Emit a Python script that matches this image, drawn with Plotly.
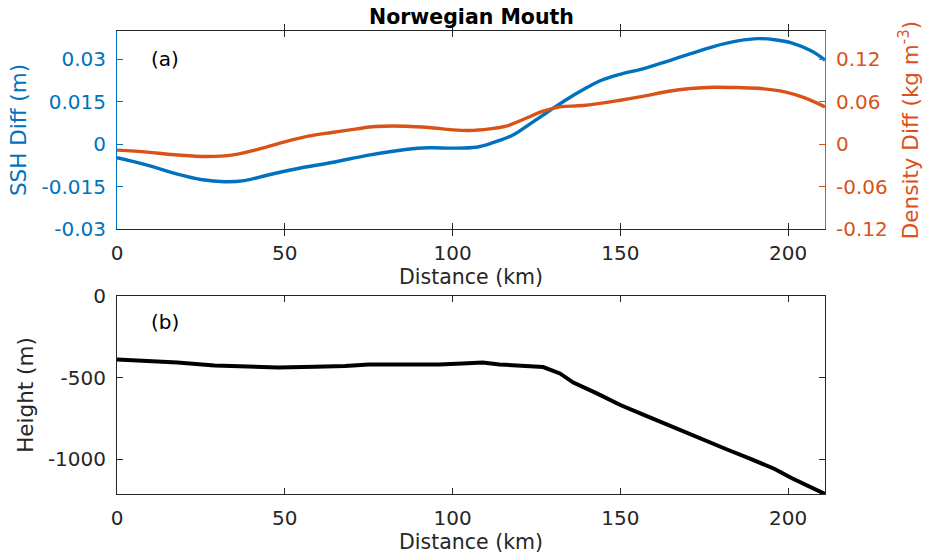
import plotly.graph_objects as go

# ---- data ----
ssh_km = [0, 9, 18, 25, 32, 38, 45, 54, 64, 75, 86, 93, 100, 107, 112, 118, 123, 128,
          134, 139, 144, 150, 157, 164, 171, 178, 185, 191, 196, 201, 207, 211]
ssh_diff = [-0.0048, -0.0074, -0.0106, -0.0125, -0.0133, -0.0129, -0.0109, -0.0086,
            -0.0065, -0.0039, -0.0019, -0.0013, -0.0014, -0.0011, 0.0005, 0.0032,
            0.0071, 0.0111, 0.0158, 0.0193, 0.0224, 0.0247, 0.0267, 0.0293, 0.0320,
            0.0346, 0.0365, 0.0373, 0.0369, 0.0358, 0.0329, 0.0297]

dens_km = [0, 9, 16, 25, 31, 36, 43, 50, 57, 64, 71, 77, 86, 93, 100, 105, 111, 116,
           121, 127, 132, 139, 150, 157, 164, 171, 178, 185, 192, 199, 205, 211]
dens_diff = [-0.0085, -0.0113, -0.0146, -0.0174, -0.0169, -0.0141, -0.0061, 0.0033,
             0.0113, 0.0165, 0.0212, 0.0249, 0.0254, 0.0235, 0.0202, 0.0193, 0.0216,
             0.0254, 0.0348, 0.0466, 0.0527, 0.0546, 0.0621, 0.0678, 0.0744, 0.0786,
             0.0805, 0.0800, 0.0786, 0.0739, 0.0654, 0.0527]

topo_km = [0, 11, 18, 29, 39, 48, 59, 68, 75, 86, 96, 103, 109, 114, 119, 127, 132,
           136, 143, 150, 157, 160, 167, 175, 182, 189, 196, 201, 207, 211]
height_m = [-388, -398, -407, -425, -433, -437, -433, -429, -419, -421, -419, -413,
            -407, -419, -427, -435, -474, -530, -596, -667, -728, -754, -815, -884,
            -941, -998, -1059, -1114, -1175, -1212]

x_ticks = [0, 50, 100, 150, 200]
ssh_ticks = [-0.03, -0.015, 0, 0.015, 0.03]
ssh_tick_text = ["-0.03", "-0.015", "0", "0.015", "0.03"]
dens_ticks = [-0.12, -0.06, 0, 0.06, 0.12]
dens_tick_text = ["-0.12", "-0.06", "0", "0.06", "0.12"]
height_ticks = [-1000, -500, 0]
height_tick_text = ["-1000", "-500", "0"]

# ---- styling ----
W, H = 933, 556
L, R, T, B = 117, 825, 31, 494           # plot-area pixel box
PW, PH = R - L, B - T
BLUE = "#0072BD"
ORANGE = "#D95319"
GRAY = "#262626"
FONT = "DejaVu Sans"
TICK_SIZE = 20
LABEL_SIZE = 20.5

def fy(p):
    """pixel row -> paper y"""
    return (B - p) / PH

def fx(p):
    return (p - L) / PW

top_dom = [fy(229), fy(31)]
bot_dom = [fy(494), fy(296)]

fig = go.Figure()
fig.add_trace(go.Scatter(x=ssh_km, y=ssh_diff, mode="lines", line=dict(color=BLUE, width=3.4, shape="spline"),
                         xaxis="x", yaxis="y", showlegend=False))
fig.add_trace(go.Scatter(x=dens_km, y=dens_diff, mode="lines", line=dict(color=ORANGE, width=3.4, shape="spline"),
                         xaxis="x", yaxis="y2", showlegend=False))
fig.add_trace(go.Scatter(x=topo_km, y=height_m, mode="lines", line=dict(color="black", width=4),
                         xaxis="x2", yaxis="y3", showlegend=False))

xcommon = dict(range=[0, 211], tickvals=x_ticks, ticks="inside", ticklen=6, tickcolor=GRAY,
               showline=True, linecolor=GRAY, linewidth=1, mirror="allticks", showgrid=False,
               zeroline=False, automargin=False, domain=[0, 1], ticklabelstandoff=6,
               tickfont=dict(family=FONT, size=TICK_SIZE, color=GRAY),
               title=dict(text="Distance (km)", font=dict(family=FONT, size=LABEL_SIZE, color=GRAY), standoff=5))

fig.update_layout(
    template="none",
    width=W, height=H,
    margin=dict(l=L, r=W - R, t=T, b=H - B, autoexpand=False),
    paper_bgcolor="white", plot_bgcolor="white",
    font=dict(family=FONT),
    xaxis=dict(anchor="y", **xcommon),
    yaxis=dict(domain=top_dom, anchor="x", range=[-0.03, 0.04], tickvals=ssh_ticks, ticktext=ssh_tick_text,
               ticks="inside", ticklen=6, tickcolor=BLUE, showline=True, linecolor=BLUE, linewidth=1,
               showgrid=False, zeroline=False, ticklabelstandoff=6, automargin=False,
               tickfont=dict(family=FONT, size=TICK_SIZE, color=BLUE),
               title=dict(text="SSH Diff (m)", font=dict(family=FONT, size=LABEL_SIZE + 1, color=BLUE), standoff=8)),
    yaxis2=dict(overlaying="y", side="right", anchor="x", range=[-0.12, 0.16], tickvals=dens_ticks,
                ticktext=dens_tick_text, ticks="inside", ticklen=6, tickcolor=ORANGE, showline=True,
                linecolor=ORANGE, linewidth=1, showgrid=False, zeroline=False, ticklabelstandoff=6,
                automargin=False,
                tickfont=dict(family=FONT, size=TICK_SIZE, color=ORANGE),
                title=dict(text="Density Diff (kg m<sup>-3</sup>)",
                           font=dict(family=FONT, size=LABEL_SIZE + 1, color=ORANGE), standoff=16)),
    xaxis2=dict(anchor="y3", **xcommon),
    yaxis3=dict(domain=bot_dom, anchor="x2", range=[-1212, 0], tickvals=height_ticks, ticktext=height_tick_text,
                ticks="inside", ticklen=6, tickcolor=GRAY, showline=True, linecolor=GRAY, linewidth=1,
                mirror="allticks", showgrid=False, zeroline=False, ticklabelstandoff=6, automargin=False,
                tickfont=dict(family=FONT, size=TICK_SIZE, color=GRAY),
                title=dict(text="Height (m)", font=dict(family=FONT, size=LABEL_SIZE + 1, color=GRAY), standoff=8)),
)

fig.add_annotation(text="<b>Norwegian Mouth</b>", xref="paper", yref="paper",
                   x=0.5, y=fy(17), xanchor="center", yanchor="middle", borderpad=0,
                   showarrow=False, font=dict(family=FONT, size=LABEL_SIZE, color="black"))
fig.add_annotation(text="(a)", xref="paper", yref="paper", x=fx(165), y=fy(59),
                   xanchor="center", yanchor="middle", showarrow=False,
                   font=dict(family=FONT, size=TICK_SIZE, color="black"))
fig.add_annotation(text="(b)", xref="paper", yref="paper", x=fx(165), y=fy(322),
                   xanchor="center", yanchor="middle", showarrow=False,
                   font=dict(family=FONT, size=TICK_SIZE, color="black"))

# remove the default page margin so the figure sits at the window's top-left corner
fig.write_html("out.html", config={"displayModeBar": False},
               post_script="document.body.style.margin='0';")
